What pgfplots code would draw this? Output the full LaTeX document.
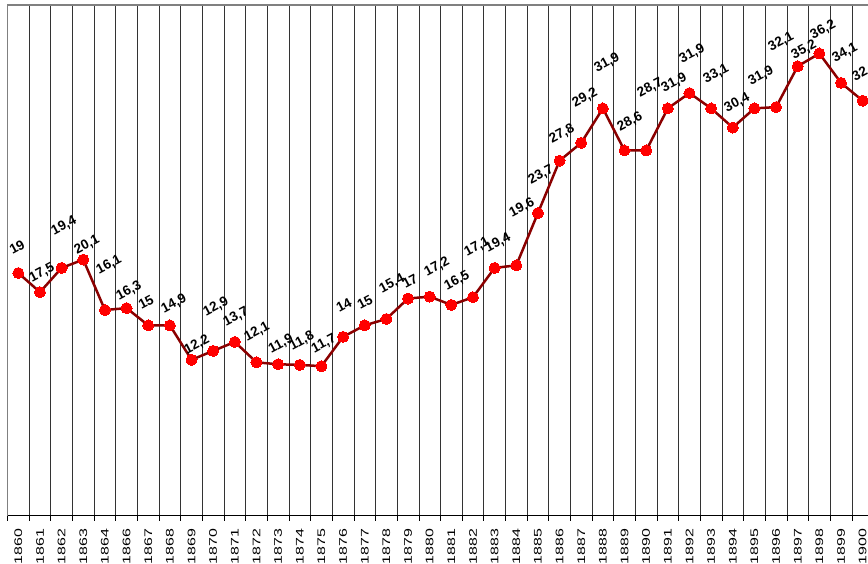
\documentclass[border=0pt]{standalone}
\usepackage{pgfplots}
\pgfplotsset{compat=1.18}
\usepackage{pgfplotstable}
\usepackage{fontspec}
\setmainfont{Liberation Sans}
\newfontfamily\tickfont[FakeStretch=1.45]{Liberation Sans}
\definecolor{linered}{RGB}{139,0,0}
\definecolor{markred}{RGB}{255,0,0}

\pgfplotstableread{
i y
0 19.0
1 17.5
2 19.4
3 20.05
4 16.1
5 16.25
6 14.9
7 14.9
8 12.2
9 12.9
10 13.6
11 12.0
12 11.85
13 11.8
14 11.7
15 14.0
16 14.9
17 15.4
18 17.0
19 17.15
20 16.5
21 17.1
22 19.4
23 19.6
24 23.7
25 27.8
26 29.2
27 31.9
28 28.6
29 28.6
30 31.9
31 33.1
32 31.9
33 30.4
34 31.9
35 32.0
36 35.2
37 36.2
38 33.9
39 32.5
}\datatable

\pgfplotstableread{
x y lbl
-0.06 21.04 19
1.09 19.00 17,5
2.11 22.68 19,4
3.17 21.19 20,1
4.19 19.63 16,1
5.11 17.59 16,3
5.90 16.73 15
7.19 16.57 14,9
8.25 13.36 12,2
9.13 16.34 12,9
10.05 15.55 13,7
11.02 14.38 12,1
12.13 13.44 11,9
13.10 13.67 11,8
14.12 13.44 11,7
15.04 16.49 14
16.01 16.73 15
17.26 18.14 15,4
18.09 18.37 17
19.34 19.47 17,2
20.26 18.37 16,5
21.19 21.04 17,1
22.16 21.35 19,4
23.26 24.09 19,6
24.14 26.68 23,7
25.11 29.89 27,8
26.17 32.71 29,2
27.19 35.46 31,9
28.25 30.83 28,6
29.18 33.50 28,7
30.29 33.89 31,9
31.12 36.16 31,9
32.23 34.59 33,1
33.20 32.32 30,4
34.30 34.44 31,9
35.23 37.10 32,1
36.29 36.47 35,2
37.17 38.04 36,2
38.18 36.24 34,1
39.11 34.75 32,5
}\labeltable

\begin{document}
\begin{tikzpicture}
\path[use as bounding box] (-7.5pt,-47.5pt) rectangle (860.5pt,515.5pt);
\clip (-7.5pt,-47.5pt) rectangle (860.5pt,515.5pt);
\begin{axis}[
  at={(0pt,0pt)}, anchor=south west,
  scale only axis, width=866pt, height=510.5pt,
  xmin=-0.5, xmax=39.5, ymin=0, ymax=40,
  axis x line*=bottom, axis y line*=left,
  x axis line style={black, line width=1.3pt, -},
  y axis line style={gray, line width=1.3pt, -},
  xtick={0,...,39},
  xticklabels={1860,1861,1862,1863,1864,1866,1867,1868,1869,1870,1871,1872,1873,1874,1875,1876,1877,1878,1879,1880,1881,1882,1883,1884,1885,1886,1887,1888,1889,1890,1891,1892,1893,1894,1895,1896,1897,1898,1899,1900},
  major tick length=0pt,
  minor xtick={-0.5,0.5,...,39.5},
  xminorgrids,
  minor grid style={black!80, line width=0.7pt},
  minor tick length=5pt, tick align=outside,
  minor x tick style={black, line width=0.7pt},
  ytick=\empty,
  extra y ticks={40},
  extra y tick labels={},
  extra y tick style={ymajorgrids, major grid style={gray, line width=1.3pt}},
  xticklabel style={yshift=-13pt, rotate=90, anchor=east, inner sep=0pt,
    font=\tickfont\fontsize{11}{12}\selectfont},
]
\addplot[color=linered, line width=2.5pt, mark=*, mark size=5.5pt,
  mark options={solid, fill=markred, draw=markred, line width=0pt}] table[x=i, y=y]{\datatable};
\addplot[draw=none, mark=none, nodes near coords, point meta=explicit symbolic,
  every node near coord/.append style={anchor=center, rotate=28, inner sep=0pt,
    font=\bfseries\fontsize{13.5}{15}\selectfont}]
  table[x=x, y=y, meta=lbl]{\labeltable};
\end{axis}
\end{tikzpicture}
\end{document}
